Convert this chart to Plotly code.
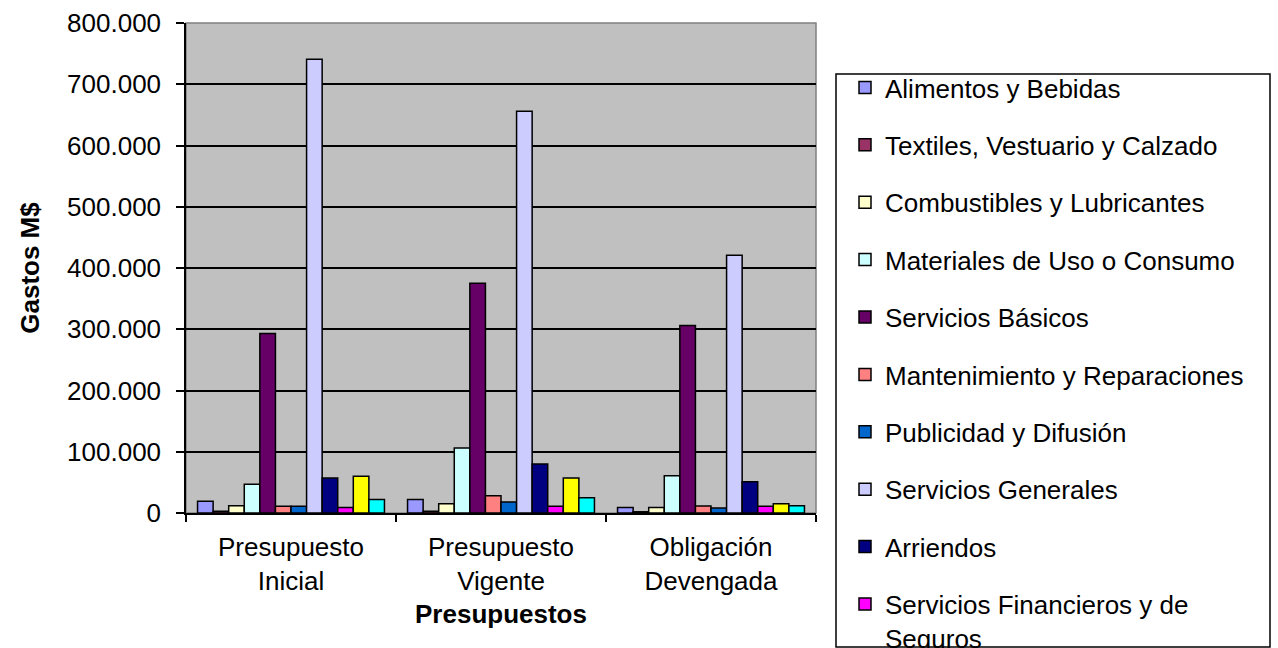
import plotly.graph_objects as go

categories = ["Presupuesto<br>Inicial", "Presupuesto<br>Vigente", "Obligación<br>Devengada"]

series_names = [
    "Alimentos y Bebidas",
    "Textiles, Vestuario y Calzado",
    "Combustibles y Lubricantes",
    "Materiales de Uso o Consumo",
    "Servicios Básicos",
    "Mantenimiento y Reparaciones",
    "Publicidad y Difusión",
    "Servicios Generales",
    "Arriendos",
    "Servicios Financieros y de<br>Seguros",
    "Servicios Técnicos y Profesionales",
    "Otros Gastos en Bienes y Servicios de Consumo",
]

alimentos = [19000, 22000, 9000]
textiles = [3000, 3000, 2000]
combustibles = [12000, 15000, 9000]
materiales = [47000, 106000, 61000]
servicios_basicos = [293000, 375000, 306000]
mantenimiento = [11000, 28000, 11500]
publicidad = [11000, 18000, 8000]
servicios_generales = [741000, 656000, 421000]
arriendos = [57000, 80000, 51000]
financieros = [9000, 11000, 11000]
tecnicos = [60000, 57000, 15000]
otros = [22000, 25000, 12000]

series_values = [alimentos, textiles, combustibles, materiales, servicios_basicos,
                 mantenimiento, publicidad, servicios_generales, arriendos,
                 financieros, tecnicos, otros]

colors = ["#9999FF", "#993366", "#FFFFCC", "#CCFFFF", "#660066", "#FF8080",
          "#0066CC", "#CCCCFF", "#000080", "#FF00FF", "#FFFF00", "#00FFFF"]

y_ticks = [0, 100000, 200000, 300000, 400000, 500000, 600000, 700000, 800000]

FONT = "Liberation Sans, Arial, sans-serif"
FS = 26

fig = go.Figure()
for i, (name, vals, col) in enumerate(zip(series_names, series_values, colors)):
    fig.add_trace(go.Bar(
        x=categories, y=vals, name=name,
        marker=dict(color=col, line=dict(color="black", width=1.5)),
        legendgroup=f"g{i}",
        showlegend=i < 10,
    ))

W, H = 1278, 648
L, R, T, B = 186, 816, 23, 513

def px_x(px):
    return (px - L) / (R - L)

def px_y(py):
    return (B - py) / (B - T)

fig.update_layout(
    width=W, height=H,
    margin=dict(l=L, r=W - R, t=T, b=H - B, pad=0, autoexpand=False),
    paper_bgcolor="white",
    plot_bgcolor="#C0C0C0",
    barmode="group",
    bargap=0.11,
    bargroupgap=0,
    separators=",.",
    font=dict(family=FONT, size=FS, color="black"),
    showlegend=True,
    legend=dict(
        x=px_x(845), xanchor="left",
        y=px_y(64), yanchor="top",
        bgcolor="rgba(0,0,0,0)",
        borderwidth=0,
        font=dict(family=FONT, size=FS, color="black"),
        traceorder="grouped",
        tracegroupgap=20.6,
        valign="top",
        itemclick=False,
        maxheight=640,
    ),
    shapes=[
        dict(type="rect", xref="paper", yref="paper",
             x0=px_x(836), x1=px_x(1270), y0=px_y(647), y1=px_y(74),
             line=dict(color="black", width=1.5), fillcolor="rgba(0,0,0,0)",
             layer="below"),
        dict(type="rect", xref="paper", yref="paper",
             x0=0, x1=1, y0=0, y1=1,
             line=dict(color="#808080", width=1.5), fillcolor="rgba(0,0,0,0)",
             layer="below"),
    ],
    xaxis=dict(
        title=dict(text="<b>Presupuestos</b>", font=dict(family=FONT, size=FS), standoff=10),
        tickfont=dict(family=FONT, size=FS),
        showline=True, linecolor="black", linewidth=1.5,
        ticks="outside", tickson="boundaries", ticklen=7, tickcolor="black", tickwidth=1.5,
        ticklabelstandoff=10,
        showgrid=False, zeroline=False,
    ),
    yaxis=dict(
        title=dict(text="<b>Gastos M$</b>", font=dict(family=FONT, size=FS), standoff=20),
        range=[0, 800000],
        tickvals=y_ticks,
        tickformat=",.0f",
        tickfont=dict(family=FONT, size=FS),
        showline=True, linecolor="black", linewidth=1.5,
        ticks="outside", ticklen=8, tickcolor="black", tickwidth=1.5,
        ticklabelstandoff=10,
        showgrid=True, gridcolor="black", gridwidth=1.5,
        zeroline=False,
    ),
)

fig.write_html("out.html")
